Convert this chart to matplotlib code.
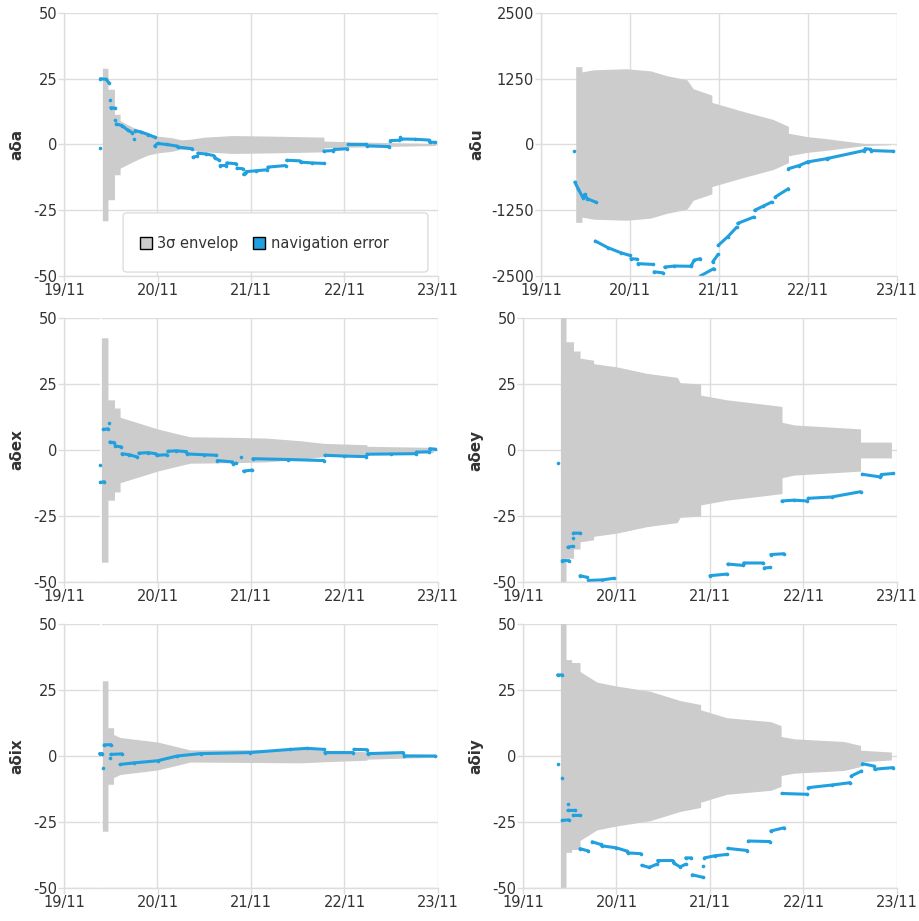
import numpy as np
import matplotlib

matplotlib.use("Agg")
import matplotlib.pyplot as plt  # noqa: E402
from matplotlib.lines import Line2D  # noqa: E402
from matplotlib.patches import FancyBboxPatch  # noqa: E402

plt.rcParams["font.family"] = ["DejaVu Sans"]

# time axis: days after 19/11
DAY_TICKS = [0, 1, 2, 3, 4]
DAY_LABELS = ["19/11", "20/11", "21/11", "22/11", "23/11"]

# ---------------------------------------------------------------------------
# 3-sigma envelope half widths (time, half width)
# ---------------------------------------------------------------------------
ADA_ENV_T = [0.41, 0.47, 0.47, 0.54, 0.54, 0.60, 0.60, 0.70, 0.80, 0.90, 1.00,
             1.15, 1.25, 1.35, 1.50, 1.80, 2.20, 2.50, 2.78, 2.78, 3.10, 3.50, 3.97]
ADA_ENV_H = [29, 29, 21, 21, 11.5, 11.5, 9, 7.2, 5.5, 4.0, 3.2,
             2.6, 1.8, 2.0, 2.8, 3.4, 3.2, 3.0, 2.8, 1.3, 1.0, 0.7, 0.4]

ADU_ENV_T = [0.39, 0.46, 0.46, 0.59, 0.96, 1.23, 1.41, 1.64, 1.71, 1.90, 1.92,
             1.92, 2.28, 2.61, 2.78, 2.78, 2.99, 3.21, 3.63, 3.93]
ADU_ENV_H = [1480, 1480, 1380, 1420, 1440, 1400, 1310, 1230, 1060, 950, 940,
             800, 625, 475, 345, 215, 150, 110, 20, 5]

ADEX_ENV_T = [0.40, 0.47, 0.47, 0.54, 0.54, 0.60, 0.60, 1.00, 1.17, 1.35,
              1.81, 2.17, 2.53, 2.78, 3.24, 3.24, 3.95]
ADEX_ENV_H = [42.5, 42.5, 19, 19, 15.9, 15.9, 12.4, 8, 6.5, 5,
              4.8, 4.5, 3.5, 2.5, 2.0, 1.4, 1.0]

ADEY_ENV_T = [0.40, 0.46, 0.46, 0.54, 0.54, 0.61, 0.61, 0.755, 0.755, 1.00,
              1.33, 1.65, 1.68, 1.90, 1.90, 2.18, 2.54, 2.77, 2.77, 2.90,
              3.61, 3.61, 3.94]
ADEY_ENV_H = [60, 60, 41, 41, 37.5, 37.5, 34.8, 34, 32.7, 31.5,
              29, 27.5, 25.5, 25, 20.8, 19, 17.5, 16.5, 10.5, 9.5,
              8, 3, 3]

ADIX_ENV_T = [0.41, 0.47, 0.47, 0.53, 0.53, 0.60, 1.00, 1.21, 1.35, 1.81,
              2.53, 2.78, 3.24, 3.24, 3.95]
ADIX_ENV_H = [28.5, 28.5, 10.7, 10.7, 8.2, 7, 5.3, 3.5, 2.3, 2.4,
              2.6, 2.2, 1.6, 1.2, 0.5]

ADIY_ENV_T = [0.40, 0.46, 0.46, 0.52, 0.52, 0.61, 0.61, 0.79, 1.00, 1.36,
              1.68, 1.90, 1.90, 2.18, 2.65, 2.76, 2.76, 2.90, 3.43, 3.61,
              3.61, 3.94]
ADIY_ENV_H = [60, 60, 36.5, 36.5, 35.4, 35.4, 32, 28, 26.5, 24.5,
              21, 19.5, 17.5, 14.5, 13, 11.5, 7.4, 6.5, 5.5, 4,
              2.2, 1.5]

# time of the white rule drawn at filter start (aδex, aδix)
START_RULE_T = 0.40

# ---------------------------------------------------------------------------
# navigation error, as runs of (time, value) readings
# ---------------------------------------------------------------------------
ADA_ERR = [
    [(0.38, -1.3)],
    [(0.39, 25), (0.45, 24.8), (0.48, 23.5)],
    [(0.49, 17)],
    [(0.50, 14), (0.55, 13.8)],
    [(0.55, 9.5)],
    [(0.56, 7.8), (0.62, 7.2), (0.68, 5.5), (0.73, 4.5)],
    [(0.75, 2)],
    [(0.76, 5.3), (0.82, 4.8), (0.90, 3.8), (0.97, 2.8)],
    [(0.97, -0.6), (1.00, 0.4), (1.10, 0.0), (1.21, -0.6)],
    [(1.22, -1.0), (1.37, -1.6)],
    [(1.38, -4.8), (1.42, -4.5)],
    [(1.43, -3.3), (1.52, -3.6), (1.60, -4.2)],
    [(1.61, -5.0), (1.66, -6.0)],
    [(1.67, -8.0), (1.73, -8.0)],
    [(1.74, -7.0), (1.84, -7.3)],
    [(1.85, -9.0), (1.91, -9.2)],
    [(1.92, -11.4), (1.94, -10.8)],
    [(1.95, -10.3), (2.05, -10.0), (2.17, -9.6)],
    [(2.18, -8.6), (2.37, -8.0)],
    [(2.38, -6.0), (2.52, -6.2)],
    [(2.53, -6.7), (2.65, -7.0), (2.78, -7.2)],
    [(2.78, -2.5), (2.88, -2.3)],
    [(2.89, -1.9), (3.03, -1.6)],
    [(3.04, 0.0), (3.23, 0.0)],
    [(3.24, -0.5), (3.48, -0.8)],
    [(3.49, 1.5), (3.58, 1.6)],
    [(3.59, 2.8)],
    [(3.60, 2.1), (3.75, 2.0), (3.90, 1.7)],
    [(3.91, 0.9), (3.97, 0.8)],
]

ADU_ERR = [
    [(0.375, -127)],
    [(0.38, -715), (0.42, -850), (0.47, -1010), (0.49, -950), (0.52, -1030),
     (0.62, -1100)],
    [(0.61, -1835), (0.75, -1960), (0.90, -2060), (1.00, -2110)],
    [(1.01, -2170), (1.08, -2180)],
    [(1.09, -2265), (1.26, -2280)],
    [(1.27, -2420), (1.37, -2440)],
    [(1.39, -2330), (1.50, -2310), (1.68, -2315)],
    [(1.69, -2300), (1.72, -2200), (1.79, -2170)],
    [(1.79, -2500), (1.94, -2360)],
    [(1.93, -2230), (1.99, -2090)],
    [(1.99, -1920), (2.10, -1750), (2.20, -1570)],
    [(2.21, -1500), (2.39, -1380)],
    [(2.40, -1250), (2.50, -1170), (2.59, -1095)],
    [(2.63, -1000), (2.78, -840)],
    [(2.78, -460), (2.90, -400), (2.99, -335)],
    [(3.00, -330), (3.21, -270)],
    [(3.22, -265), (3.63, -115)],
    [(3.64, -80), (3.70, -90)],
    [(3.71, -115), (3.96, -130)],
]

ADEX_ERR = [
    [(0.38, -5.8)],
    [(0.39, -12.3), (0.43, -12.0)],
    [(0.42, 7.8), (0.47, 8.0)],
    [(0.48, 10.3)],
    [(0.49, 3.0), (0.54, 2.8)],
    [(0.55, 1.5), (0.61, 1.2)],
    [(0.62, -1.4), (0.70, -1.8), (0.78, -2.6)],
    [(0.80, -1.2), (0.90, -1.0), (0.98, -1.4)],
    [(0.99, -2.0), (1.10, -1.8)],
    [(1.11, -0.5), (1.20, -0.3), (1.31, -0.6)],
    [(1.32, -1.5), (1.50, -1.8), (1.63, -2.0)],
    [(1.64, -4.0), (1.80, -4.5)],
    [(1.81, -5.2), (1.84, -5.0)],
    [(1.89, -2.6)],
    [(1.92, -8.0), (2.01, -7.6)],
    [(2.02, -3.3), (2.40, -3.6), (2.78, -4.0)],
    [(2.79, -2.0), (3.00, -2.3), (3.23, -2.5)],
    [(3.24, -1.6), (3.50, -1.5), (3.76, -1.4)],
    [(3.77, -0.8), (3.90, -0.7)],
    [(3.91, 0.5), (3.97, 0.3)],
]

ADEY_ERR = [
    [(0.37, -5.1)],
    [(0.42, -41.9), (0.49, -41.9)],
    [(0.48, -36.8), (0.53, -36.5)],
    [(0.54, -33.4)],
    [(0.54, -31.5), (0.61, -31.5)],
    [(0.61, -47.6), (0.68, -48.2)],
    [(0.70, -49.4), (0.85, -49.2), (0.97, -48.6)],
    [(2.00, -47.6), (2.18, -47.0)],
    [(2.19, -43.2), (2.35, -43.7)],
    [(2.36, -42.8), (2.57, -42.8)],
    [(2.58, -44.7), (2.64, -44.5)],
    [(2.65, -39.6), (2.79, -39.3)],
    [(2.77, -19.3), (2.90, -19.0), (3.04, -19.3)],
    [(3.05, -18.3), (3.30, -17.8), (3.61, -15.8)],
    [(3.63, -9.2), (3.82, -10.2)],
    [(3.83, -9.3), (3.96, -8.9)],
]

ADIX_ERR = [
    [(0.38, 0.9), (0.41, 0.9)],
    [(0.42, -4.7)],
    [(0.43, 4.2), (0.50, 4.3)],
    [(0.49, -0.9)],
    [(0.50, 0.6), (0.62, 0.8)],
    [(0.60, -3.2), (0.75, -2.6), (1.00, -1.8), (1.21, 0.0), (1.46, 0.9),
     (1.99, 1.3), (2.42, 2.5), (2.60, 2.9), (2.78, 2.5)],
    [(2.79, 1.3), (3.09, 1.3)],
    [(3.10, 2.5), (3.24, 2.4)],
    [(3.25, 0.9), (3.63, 1.3)],
    [(3.64, 0.0), (3.97, 0.0)],
]

ADIY_ERR = [
    [(0.37, 30.7), (0.42, 30.7)],
    [(0.375, -3.2)],
    [(0.42, -8.5)],
    [(0.48, -18.0)],
    [(0.42, -24.4), (0.49, -24.2)],
    [(0.48, -20.6), (0.56, -20.6)],
    [(0.54, -22.5), (0.61, -22.5)],
    [(0.61, -35.1), (0.70, -36.0)],
    [(0.74, -32.5), (0.83, -33.5)],
    [(0.84, -34.0), (1.00, -34.8), (1.11, -36.0)],
    [(1.12, -36.7), (1.26, -37.0)],
    [(1.27, -41.4), (1.35, -42.2), (1.43, -41.0)],
    [(1.44, -39.6), (1.60, -39.6)],
    [(1.61, -40.5), (1.68, -42.0), (1.74, -41.0)],
    [(1.74, -38.6), (1.80, -38.6)],
    [(1.81, -45.0), (1.93, -46.0)],
    [(1.93, -41.7)],
    [(1.94, -38.6), (2.05, -37.8), (2.18, -37.3)],
    [(2.19, -35.0), (2.40, -35.8)],
    [(2.41, -32.2), (2.64, -32.4)],
    [(2.65, -28.4), (2.79, -27.2)],
    [(2.77, -14.2), (3.04, -14.5)],
    [(3.05, -12.0), (3.30, -11.0), (3.50, -10.1)],
    [(3.51, -7.6), (3.62, -5.7)],
    [(3.63, -2.9), (3.75, -3.8)],
    [(3.76, -5.0), (3.96, -4.4)],
]

ENV_COLOR = "#cccccc"
ERR_COLOR = "#21a0e0"
GRID_COLOR = "#dddddd"
TEXT_COLOR = "#333333"

W, H = 920, 921


def _runs_to_xy(runs):
    """Flatten runs into x / y arrays with NaN breaks between them."""
    xs, ys = [], []
    for run in runs:
        for t, v in run:
            xs.append(t)
            ys.append(v)
        xs.append(np.nan)
        ys.append(np.nan)
    return np.array(xs, dtype=float), np.array(ys, dtype=float)


def _panel(rect, label, env_t, env_h, err, lim, label_x, rule=False):
    left, top, width, height = rect
    ax = fig.add_axes([left / W, 1 - (top + height) / H, width / W, height / H])
    ax.set_axisbelow(True)
    env_t = np.asarray(env_t, dtype=float)
    env_h = np.asarray(env_h, dtype=float)
    ax.fill_between(env_t, -env_h, env_h, color=ENV_COLOR, lw=0, zorder=1)
    if rule:
        ax.axvline(START_RULE_T, color="white", lw=1.2, zorder=0.9)
    x, y = _runs_to_xy(err)
    ax.plot(x, y, color=ERR_COLOR, lw=2.2, marker="o", ms=2.6, mew=0,
            solid_capstyle="round", zorder=2)

    ax.set_xlim(0, 4)
    ax.set_ylim(-lim, lim)
    ax.set_xticks(DAY_TICKS)
    ax.set_xticklabels(DAY_LABELS)
    ax.set_yticks([-lim, -lim / 2, 0, lim / 2, lim])
    ax.set_yticklabels([f"{v:g}" for v in (-lim, -lim / 2, 0, lim / 2, lim)])
    ax.grid(True, color=GRID_COLOR, lw=1)
    for side in ("top", "right"):
        ax.spines[side].set_visible(False)
    for side in ("left", "bottom"):
        ax.spines[side].set_color(GRID_COLOR)
        ax.spines[side].set_linewidth(1)
    ax.tick_params(colors=GRID_COLOR, labelcolor=TEXT_COLOR, labelsize=10.5,
                   length=4, width=1, pad=1)
    ax.set_ylabel(label, fontsize=11, fontweight="bold", color=TEXT_COLOR)
    ax.yaxis.set_label_coords(label_x, 0.5)
    return ax


fig = plt.figure(figsize=(W / 100, H / 100), dpi=100)

ax_a = _panel((64, 13, 374, 263), "a\u03b4a", ADA_ENV_T, ADA_ENV_H, ADA_ERR, 50, -0.105)
_panel((541, 13, 356, 263), "a\u03b4u", ADU_ENV_T, ADU_ENV_H, ADU_ERR, 2500, -0.16)
_panel((64, 318, 374, 264), "a\u03b4ex", ADEX_ENV_T, ADEX_ENV_H, ADEX_ERR, 50, -0.105,
       rule=True)
_panel((523, 318, 374, 264), "a\u03b4ey", ADEY_ENV_T, ADEY_ENV_H, ADEY_ERR, 50, -0.107)
_panel((64, 624, 374, 264), "a\u03b4ix", ADIX_ENV_T, ADIX_ENV_H, ADIX_ERR, 50, -0.105,
       rule=True)
_panel((523, 624, 374, 264), "a\u03b4iy", ADIY_ENV_T, ADIY_ENV_H, ADIY_ERR, 50, -0.107)

# legend in a rounded white box inside the first panel
box = FancyBboxPatch((0.158, 0.015), 0.815, 0.225,
                     boxstyle="round,pad=0,rounding_size=0.012",
                     transform=ax_a.transAxes, facecolor="white",
                     edgecolor=GRID_COLOR, lw=1, zorder=4)
ax_a.add_patch(box)
handles = [
    Line2D([], [], ls="none", marker="s", ms=8, mfc=ENV_COLOR, mec="black",
           mew=1, label="3\u03c3 envelop"),
    Line2D([], [], ls="none", marker="s", ms=8, mfc=ERR_COLOR, mec="black",
           mew=1, label="navigation error"),
]
leg = ax_a.legend(handles=handles, loc="center", bbox_to_anchor=(0.535, 0.125),
                  ncol=2, frameon=False, fontsize=10.5, handlelength=0.8,
                  handletextpad=0.4, columnspacing=1.0, labelcolor=TEXT_COLOR)
leg.set_zorder(6)

fig.savefig("out.png", dpi=100)
